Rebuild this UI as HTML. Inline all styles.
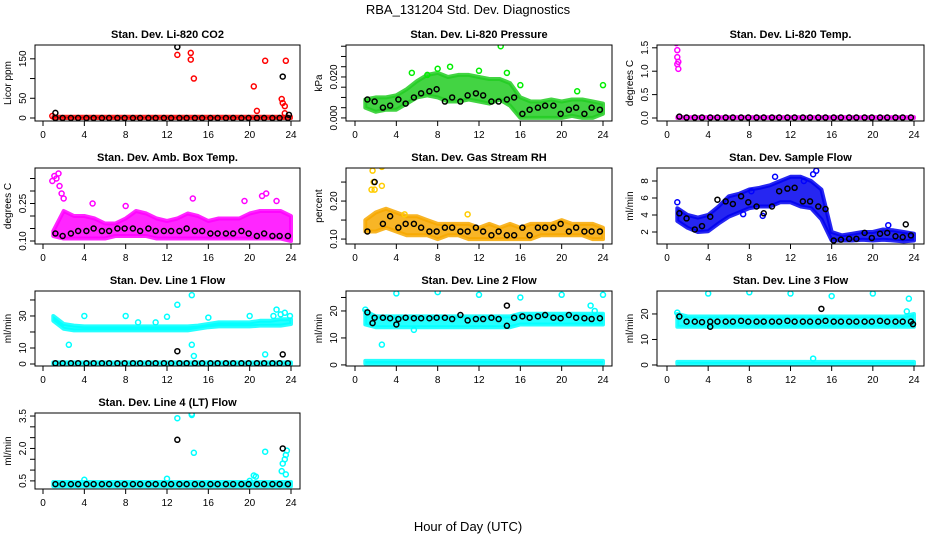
<!DOCTYPE html>
<html><head><meta charset="utf-8"><style>
body{margin:0;background:#fff;}
svg{display:block;font-family:"Liberation Sans",sans-serif;}
</style></head><body>
<svg id="c" width="936" height="540" xmlns="http://www.w3.org/2000/svg">
<text x="468" y="14" text-anchor="middle" font-size="13">RBA_131204  Std. Dev. Diagnostics</text>
<text x="468" y="531" text-anchor="middle" font-size="13">Hour of Day (UTC)</text>
</svg>
<script>
const G=[1,2,3,4,5,6,7,8,9,10,11,12,13,14,15,16,17,18,19,20,21,22,23,24];
const BX=[1.2,1.9,2.7,3.4,4.2,4.9,5.7,6.4,7.2,7.9,8.7,9.4,10.2,10.9,11.7,12.4,13.2,13.9,14.7,15.4,16.2,16.9,17.7,18.4,19.2,19.9,20.7,21.4,22.2,22.9,23.7];
const xTicks=[0,4,8,12,16,20,24];

const co2Lo=[0,0,0,0,0,0,0,0,0,0,0,0,0,0,0,0,0,0,0,0,0,0,0,0];
const co2Hi=[3,3,3,3,3,3,3,3,3,3,3,3,3,3,3,3,3,3,3,3,3,3,3,3];
const co2Pts=[[0.9,5],[13,160],[14.3,165],[14.3,148],[14.6,100],[20.4,80],[20.7,18],[21.5,145],[23.1,48],[23.2,38],[23.4,30],[23.5,145],[23.4,12]];
const co2Blk=[0,0,0,0,0,0,0,0,0,0,0,0,0,0,0,0,0,0,0,0,0,0,0,0,0,0,0,0,0,0,0];
const co2Extra=[[1.2,13],[13,180],[23.2,105],[23.8,8]];

const prLo=[0.005,0.003,0.004,0.004,0.007,0.010,0.011,0.010,0.008,0.008,0.009,0.008,0.007,0.009,0.006,0.0,0.0,0.0,0.0,0.0,0.001,0.0,0.0,0.002];
const prHi=[0.009,0.010,0.010,0.011,0.014,0.018,0.021,0.022,0.020,0.021,0.021,0.020,0.019,0.019,0.017,0.010,0.008,0.008,0.009,0.008,0.009,0.009,0.008,0.007];
const prPts=[[5.5,0.022],[7,0.021],[9.2,0.025],[14.1,0.035],[14.7,0.022],[16,0.016],[21.5,0.013],[24,0.016],[8,0.024],[12,0.023]];
const prBlk=[0.009,0.008,0.005,0.006,0.009,0.007,0.010,0.012,0.013,0.014,0.008,0.010,0.008,0.011,0.012,0.011,0.008,0.008,0.009,0.010,0.002,0.004,0.005,0.006,0.006,0.002,0.004,0.005,0.002,0.005,0.004];

const tpLo=[0,0,0,0,0,0,0,0,0,0,0,0,0,0,0,0,0,0,0,0,0,0,0,0];
const tpHi=[0.02,0.02,0.02,0.02,0.02,0.02,0.02,0.02,0.02,0.02,0.02,0.02,0.02,0.02,0.02,0.02,0.02,0.02,0.02,0.02,0.02,0.02,0.02,0.02];
const tpPts=[[0.9,1.6],[1.0,1.45],[1.0,1.3],[1.1,1.2],[1.0,1.15],[1.1,1.05]];
const tpBlk=[0.03,0.01,0.01,0.01,0.01,0.01,0.01,0.01,0.01,0.01,0.01,0.01,0.01,0.01,0.01,0.01,0.01,0.01,0.01,0.01,0.01,0.01,0.01,0.01,0.01,0.01,0.01,0.01,0.01,0.01,0.01];

const abLo=[0.12,0.11,0.11,0.11,0.11,0.11,0.12,0.12,0.12,0.12,0.11,0.11,0.11,0.11,0.11,0.11,0.11,0.11,0.11,0.11,0.11,0.11,0.11,0.10];
const abHi=[0.14,0.22,0.20,0.20,0.19,0.17,0.17,0.19,0.22,0.21,0.19,0.18,0.19,0.21,0.20,0.18,0.19,0.19,0.19,0.21,0.22,0.22,0.22,0.20];
const abPts=[[0.9,0.34],[1.1,0.36],[1.3,0.35],[1.5,0.37],[1.6,0.32],[1.8,0.29],[2.0,0.27],[4.8,0.25],[14.5,0.27],[21.2,0.28],[21.6,0.29],[22.6,0.26],[19.5,0.26],[8,0.24]];
const abBlk=[0.13,0.12,0.13,0.14,0.14,0.15,0.14,0.14,0.15,0.15,0.15,0.14,0.15,0.14,0.14,0.14,0.14,0.15,0.14,0.14,0.13,0.13,0.13,0.13,0.14,0.13,0.12,0.13,0.12,0.12,0.12];

const rhLo=[0.12,0.12,0.13,0.12,0.11,0.11,0.11,0.10,0.11,0.11,0.10,0.10,0.10,0.10,0.10,0.10,0.10,0.11,0.11,0.11,0.11,0.11,0.10,0.10];
const rhHi=[0.15,0.17,0.18,0.17,0.16,0.16,0.15,0.14,0.14,0.14,0.14,0.13,0.14,0.13,0.14,0.13,0.14,0.14,0.14,0.15,0.14,0.14,0.14,0.13];
const rhPts=[[1.7,0.28],[1.8,0.25],[1.9,0.23],[2.6,0.29],[2.6,0.24],[1.6,0.23],[4.8,0.165],[10.9,0.165]];
const rhBlk=[0.12,0.25,0.14,0.16,0.13,0.14,0.14,0.13,0.12,0.12,0.13,0.13,0.12,0.12,0.13,0.12,0.11,0.12,0.11,0.11,0.13,0.11,0.13,0.13,0.13,0.14,0.12,0.13,0.12,0.12,0.12];

const sfLo=[3.3,2.5,2.0,2.1,3.0,3.8,4.3,4.8,5.0,5.0,5.5,5.5,5.0,4.8,3.5,1.0,1.0,1.0,1.1,1.0,1.1,1.0,0.9,1.0];
const sfHi=[4.8,4.0,3.7,4.0,5.0,6.2,6.5,7.0,7.2,7.5,8.0,8.5,8.5,8.0,7.0,2.0,1.6,1.8,2.0,2.0,2.3,2.2,2.0,1.8];
const sfPts=[[1,5.5],[8.2,6.8],[10.5,8.5],[14.5,9.2],[14.2,8.8],[13.3,8.0],[7.4,4.1],[9.3,3.9],[21.5,2.8]];
const sfBlk=[4.2,3.6,2.3,2.7,3.8,5.8,5.6,5.3,6.2,5.5,5.0,4.2,5.0,6.8,7.1,7.2,5.6,5.6,5.0,4.7,1.0,1.1,1.2,1.2,1.9,1.3,1.8,1.9,1.5,1.4,1.6];
const sfExtra=[[23.2,2.9]];

const l1Lo=[27,22,21,21,21,21,21,21,21,21,21,21,21,21,22,23,23.5,23.5,23.5,23.5,24,24,24,25];
const l1Hi=[30,25,24,23.5,23.5,23.5,23.5,23.5,23.5,23.5,23.5,23.5,23.5,23.5,24,25,26,26,26,26,27,27,28,28];
const l1Lo2=[0,0,0,0,0,0,0,0,0,0,0,0,0,0,0,0,0,0,0,0,0,0,0,0];
const l1Hi2=[1,1,1,1,1,1,1,1,1,1,1,1,1,1,1,1,1,1,1,1,1,1,1,1];
const l1Pts=[[2.5,12],[4,30],[8,30],[9.2,26],[10.9,26],[12,29.5],[13,37],[14.4,43],[14.4,12],[14.6,5],[16,29],[20,30],[21.5,6],[22.3,30],[22.6,34],[23,31],[23.4,32],[23.9,30]];
const l1Blk=[0.5,0.5,0.5,0.5,0.5,0.5,0.5,0.5,0.5,0.5,0.5,0.5,0.5,0.5,0.5,0.5,0.5,0.5,0.5,0.5,0.5,0.5,0.5,0.5,0.5,0.5,0.5,0.5,0.5,0.5,0.5];
const l1Extra=[[13,8],[23.2,6]];

const l2Lo=[15,14,14,14,14,14,14,14,14,14,14,14,14,14,14,15,15,15,15,15,15,15,15,15];
const l2Hi=[20,18,18,18,18,18,18,18,18,18,18,18,18,18,18,19,19,19,19,19,19,19,19,19];
const l2Lo2=[0.5,0.5,0.5,0.5,0.5,0.5,0.5,0.5,0.5,0.5,0.5,0.5,0.5,0.5,0.5,0.5,0.5,0.5,0.5,0.5,0.5,0.5,0.5,0.5];
const l2Hi2=[1.5,1.5,1.5,1.5,1.5,1.5,1.5,1.5,1.5,1.5,1.5,1.5,1.5,1.5,1.5,1.5,1.5,1.5,1.5,1.5,1.5,1.5,1.5,1.5];
const l2Pts=[[1,20.5],[2.6,7.5],[4,26.5],[5.7,13],[8,27],[12,26],[16,25],[20,26],[22.8,22],[23.2,20],[24,26]];
const l2Blk=[19.5,17.5,17.5,17.3,17,17.5,17.3,17.3,17.3,17.5,17.5,17,18.5,16.5,17,17,17.5,17,14.5,17.5,18,17.5,18,18.5,17.5,17.3,18.5,17.5,17.3,17,17.3];
const l2Extra=[[14.7,22],[1.7,15.5],[4,15]];

const l3Lo=[15,15,15,15,15,15,15,15,15,15,15,15,15,15,15,15,15,15,15,15,15,15,15,15];
const l3Hi=[20,19,19,19,19,19,19,19,19,19,19,19,19,19,19,19,19,19,19,19,19,19,19,20];
const l3Lo2=[0.5,0.5,0.5,0.5,0.5,0.5,0.5,0.5,0.5,0.5,0.5,0.5,0.5,0.5,0.5,0.5,0.5,0.5,0.5,0.5,0.5,0.5,0.5,0.5];
const l3Hi2=[1.2,1.2,1.2,1.2,1.2,1.2,1.2,1.2,1.2,1.2,1.2,1.2,1.2,1.2,1.2,1.2,1.2,1.2,1.2,1.2,1.2,1.2,1.2,1.2];
const l3Pts=[[1,20.5],[4,28],[8,28.5],[12,28],[16,27],[20,28],[23.5,26],[14.2,2.5],[23.3,21]];
const l3Blk=[19,17,17,16.8,17,17,17,17,17.3,17,17,17,17,17,17.3,17,17,17,17,17.3,17,17,17,17,17,17,17.3,17,17,17,17];
const l3Extra=[[15,22],[4.2,15],[23.9,16]];

const l4Lo=[0.25,0.25,0.25,0.25,0.25,0.25,0.25,0.25,0.25,0.25,0.25,0.25,0.25,0.25,0.25,0.25,0.25,0.25,0.25,0.25,0.25,0.25,0.25,0.25];
const l4Hi=[0.45,0.45,0.45,0.45,0.45,0.45,0.45,0.45,0.45,0.45,0.45,0.45,0.45,0.45,0.45,0.45,0.45,0.45,0.45,0.45,0.45,0.45,0.45,0.45];
const l4Pts=[[4,0.55],[12,0.6],[13,3.4],[14.4,3.6],[14.4,3.55],[14.6,1.8],[20.4,0.75],[20.6,0.7],[21.5,1.85],[23.1,0.95],[23.2,1.3],[23.4,1.5],[23.5,1.7],[23.5,0.8],[23.6,1.9],[20,0.5]];
const l4Blk=[0.35,0.35,0.35,0.35,0.35,0.35,0.35,0.35,0.35,0.35,0.35,0.35,0.35,0.35,0.35,0.35,0.35,0.35,0.35,0.35,0.35,0.35,0.35,0.35,0.35,0.35,0.35,0.35,0.35,0.35,0.35];
const l4Extra=[[13,2.4],[23.2,2.0]];

const NS='http://www.w3.org/2000/svg';
const svg=document.getElementById('c');
const COLS=[{bl:35,br:300,x0:43,x24:291},{bl:346,br:612,x0:355,x24:603},{bl:657,br:924,x0:667,x24:914}];
const ROWS=[{t:45,b:121},{t:168,b:244},{t:291,b:366},{t:413,b:489}];

const panels=[
 {name:'co2',title:'Stan. Dev. Li-820 CO2',yl:'Licor ppm',c:0,r:0,ymin:-7.6,ymax:185,ticks:[0,50,100,150],labs:['0','50','','150'],col:'#ff0000',band:'#ff0000',bands:[[co2Lo,co2Hi]],pts:co2Pts,blk:co2Blk,extra:co2Extra},
 {name:'pressure',title:'Stan. Dev. Li-820 Pressure',yl:'kPa',c:1,r:0,ymin:-0.0015,ymax:0.0356,ticks:[0,0.005,0.01,0.015,0.02,0.025,0.03,0.035],labs:['0.000','','','','0.020','','',''],col:'#00ee00',band:'#22cc22',bands:[[prLo,prHi]],pts:prPts,blk:prBlk,extra:[]},
 {name:'licor-temp',title:'Stan. Dev. Li-820 Temp.',yl:'degrees C',c:2,r:0,ymin:-0.064,ymax:1.56,ticks:[0,0.5,1,1.5],labs:['0.0','0.5','1.0','1.5'],col:'#ff00ff',band:'#ff00ff',bands:[[tpLo,tpHi]],pts:tpPts,blk:tpBlk,extra:[]},
 {name:'amb-box-temp',title:'Stan. Dev. Amb. Box Temp.',yl:'degrees C',c:0,r:1,ymin:0.088,ymax:0.392,ticks:[0.1,0.15,0.2,0.25,0.3,0.35],labs:['0.10','','','0.25','',''],col:'#ff00ff',band:'#ff00ff',bands:[[abLo,abHi]],pts:abPts,blk:abBlk,extra:[]},
 {name:'gas-stream-rh',title:'Stan. Dev. Gas Stream RH',yl:'percent',c:1,r:1,ymin:0.087,ymax:0.287,ticks:[0.1,0.15,0.2,0.25],labs:['0.10','','0.20',''],col:'#ffcc00',band:'#f7a800',bands:[[rhLo,rhHi]],pts:rhPts,blk:rhBlk,extra:[]},
 {name:'sample-flow',title:'Stan. Dev. Sample Flow',yl:'ml/min',c:2,r:1,ymin:0.59,ymax:9.53,ticks:[2,4,6,8],labs:['2','4','6','8'],col:'#0000ff',band:'#0000ee',bands:[[sfLo,sfHi]],pts:sfPts,blk:sfBlk,extra:sfExtra},
 {name:'line1-flow',title:'Stan. Dev. Line 1 Flow',yl:'ml/min',c:0,r:2,ymin:-1.25,ymax:45.6,ticks:[0,10,20,30,40],labs:['0','10','','30',''],col:'#00ffff',band:'#00ffff',bands:[[l1Lo,l1Hi],[l1Lo2,l1Hi2]],pts:l1Pts,blk:l1Blk,extra:l1Extra},
 {name:'line2-flow',title:'Stan. Dev. Line 2 Flow',yl:'ml/min',c:1,r:2,ymin:-0.4,ymax:27.4,ticks:[0,10,20,25],labs:['0','10','20',''],col:'#00ffff',band:'#00ffff',bands:[[l2Lo,l2Hi],[l2Lo2,l2Hi2]],pts:l2Pts,blk:l2Blk,extra:l2Extra},
 {name:'line3-flow',title:'Stan. Dev. Line 3 Flow',yl:'ml/min',c:2,r:2,ymin:-0.4,ymax:29,ticks:[0,10,20],labs:['0','10','20'],col:'#00ffff',band:'#00ffff',bands:[[l3Lo,l3Hi],[l3Lo2,l3Hi2]],pts:l3Pts,blk:l3Blk,extra:l3Extra},
 {name:'line4-flow',title:'Stan. Dev. Line 4 (LT) Flow',yl:'ml/min',c:0,r:3,ymin:0.125,ymax:3.64,ticks:[0.5,1,1.5,2,2.5,3,3.5],labs:['0.5','','','2.0','','','3.5'],col:'#00ffff',band:'#00ffff',bands:[[l4Lo,l4Hi]],pts:l4Pts,blk:l4Blk,extra:l4Extra}
];

function el(t,a,p){const e=document.createElementNS(NS,t);for(const k in a)e.setAttribute(k,a[k]);(p||svg).appendChild(e);return e;}

panels.forEach(P=>{
 const C=COLS[P.c],R=ROWS[P.r];
 const xs=v=>C.x0+(C.x24-C.x0)*v/24;
 const ys=v=>R.b-(R.b-R.t)*(v-P.ymin)/(P.ymax-P.ymin);
 const g=el('g',{});
 
 
 const tt=el('text',{x:(C.bl+C.br)/2,y:R.t-7,'text-anchor':'middle','font-size':'11','font-weight':'bold'},g);
 tt.textContent=P.title;
 
 
 const clip=el('clipPath',{id:'cl'+P.name},g);
 el('rect',{x:C.bl,y:R.t,width:C.br-C.bl,height:R.b-R.t},clip);
 const plot=el('g',{'clip-path':'url(#cl'+P.name+')'},g);
 P.bands.forEach((bd,bi)=>{
  let d='';
  G.forEach((h,i)=>{d+=(i?'L':'M')+xs(h).toFixed(1)+','+ys(bd[1][i]).toFixed(1);});
  for(let i=G.length-1;i>=0;i--)d+='L'+xs(G[i]).toFixed(1)+','+ys(bd[0][i]).toFixed(1);
  const b=el('path',{d:d+'Z',fill:P.band,stroke:P.band,'stroke-width':'4','stroke-linejoin':'round','fill-opacity':'0.85','stroke-opacity':'0.85'},plot);
  
  
 });
 P.pts.forEach(p=>{
  const c=el('circle',{cx:xs(p[0]),cy:ys(p[1]),r:2.5,fill:'none',stroke:P.col,'stroke-width':'1.5'},plot);
  
  
 });
 const blks=BX.map((x,i)=>[x,P.blk[i]]).concat(P.extra);
 blks.forEach(p=>{
  const c=el('circle',{cx:xs(p[0]),cy:ys(p[1]),r:2.5,fill:'none',stroke:'#000','stroke-width':'1.5'},plot);
  
  
 });
 const box=el('rect',{x:C.bl,y:R.t,width:C.br-C.bl,height:R.b-R.t,fill:'none',stroke:'#000','stroke-width':'1'},g);
 
 
 xTicks.forEach(t=>{
  el('line',{x1:xs(t),x2:xs(t),y1:R.b,y2:R.b+5,stroke:'#000'},g);
  const l=el('text',{x:xs(t),y:R.b+17,'text-anchor':'middle','font-size':'10'},g);
  l.textContent=t;
  
  
 });
 P.ticks.forEach((t,i)=>{
  const y=ys(t);
  el('line',{x1:C.bl-5,x2:C.bl,y1:y,y2:y,stroke:'#000'},g);
  if(P.labs[i]){
   const l=el('text',{x:C.bl-9,y:y,'text-anchor':'middle','font-size':'10',transform:'rotate(-90 '+(C.bl-9)+' '+y+')'},g);
   l.textContent=P.labs[i];
   
   
  }
 });
 const yx=C.bl-24,yy=(R.t+R.b)/2;
 const yl=el('text',{x:yx,y:yy,'text-anchor':'middle','font-size':'10',transform:'rotate(-90 '+yx+' '+yy+')'},g);
 yl.textContent=P.yl;
 
 
});
</script>
</body></html>
